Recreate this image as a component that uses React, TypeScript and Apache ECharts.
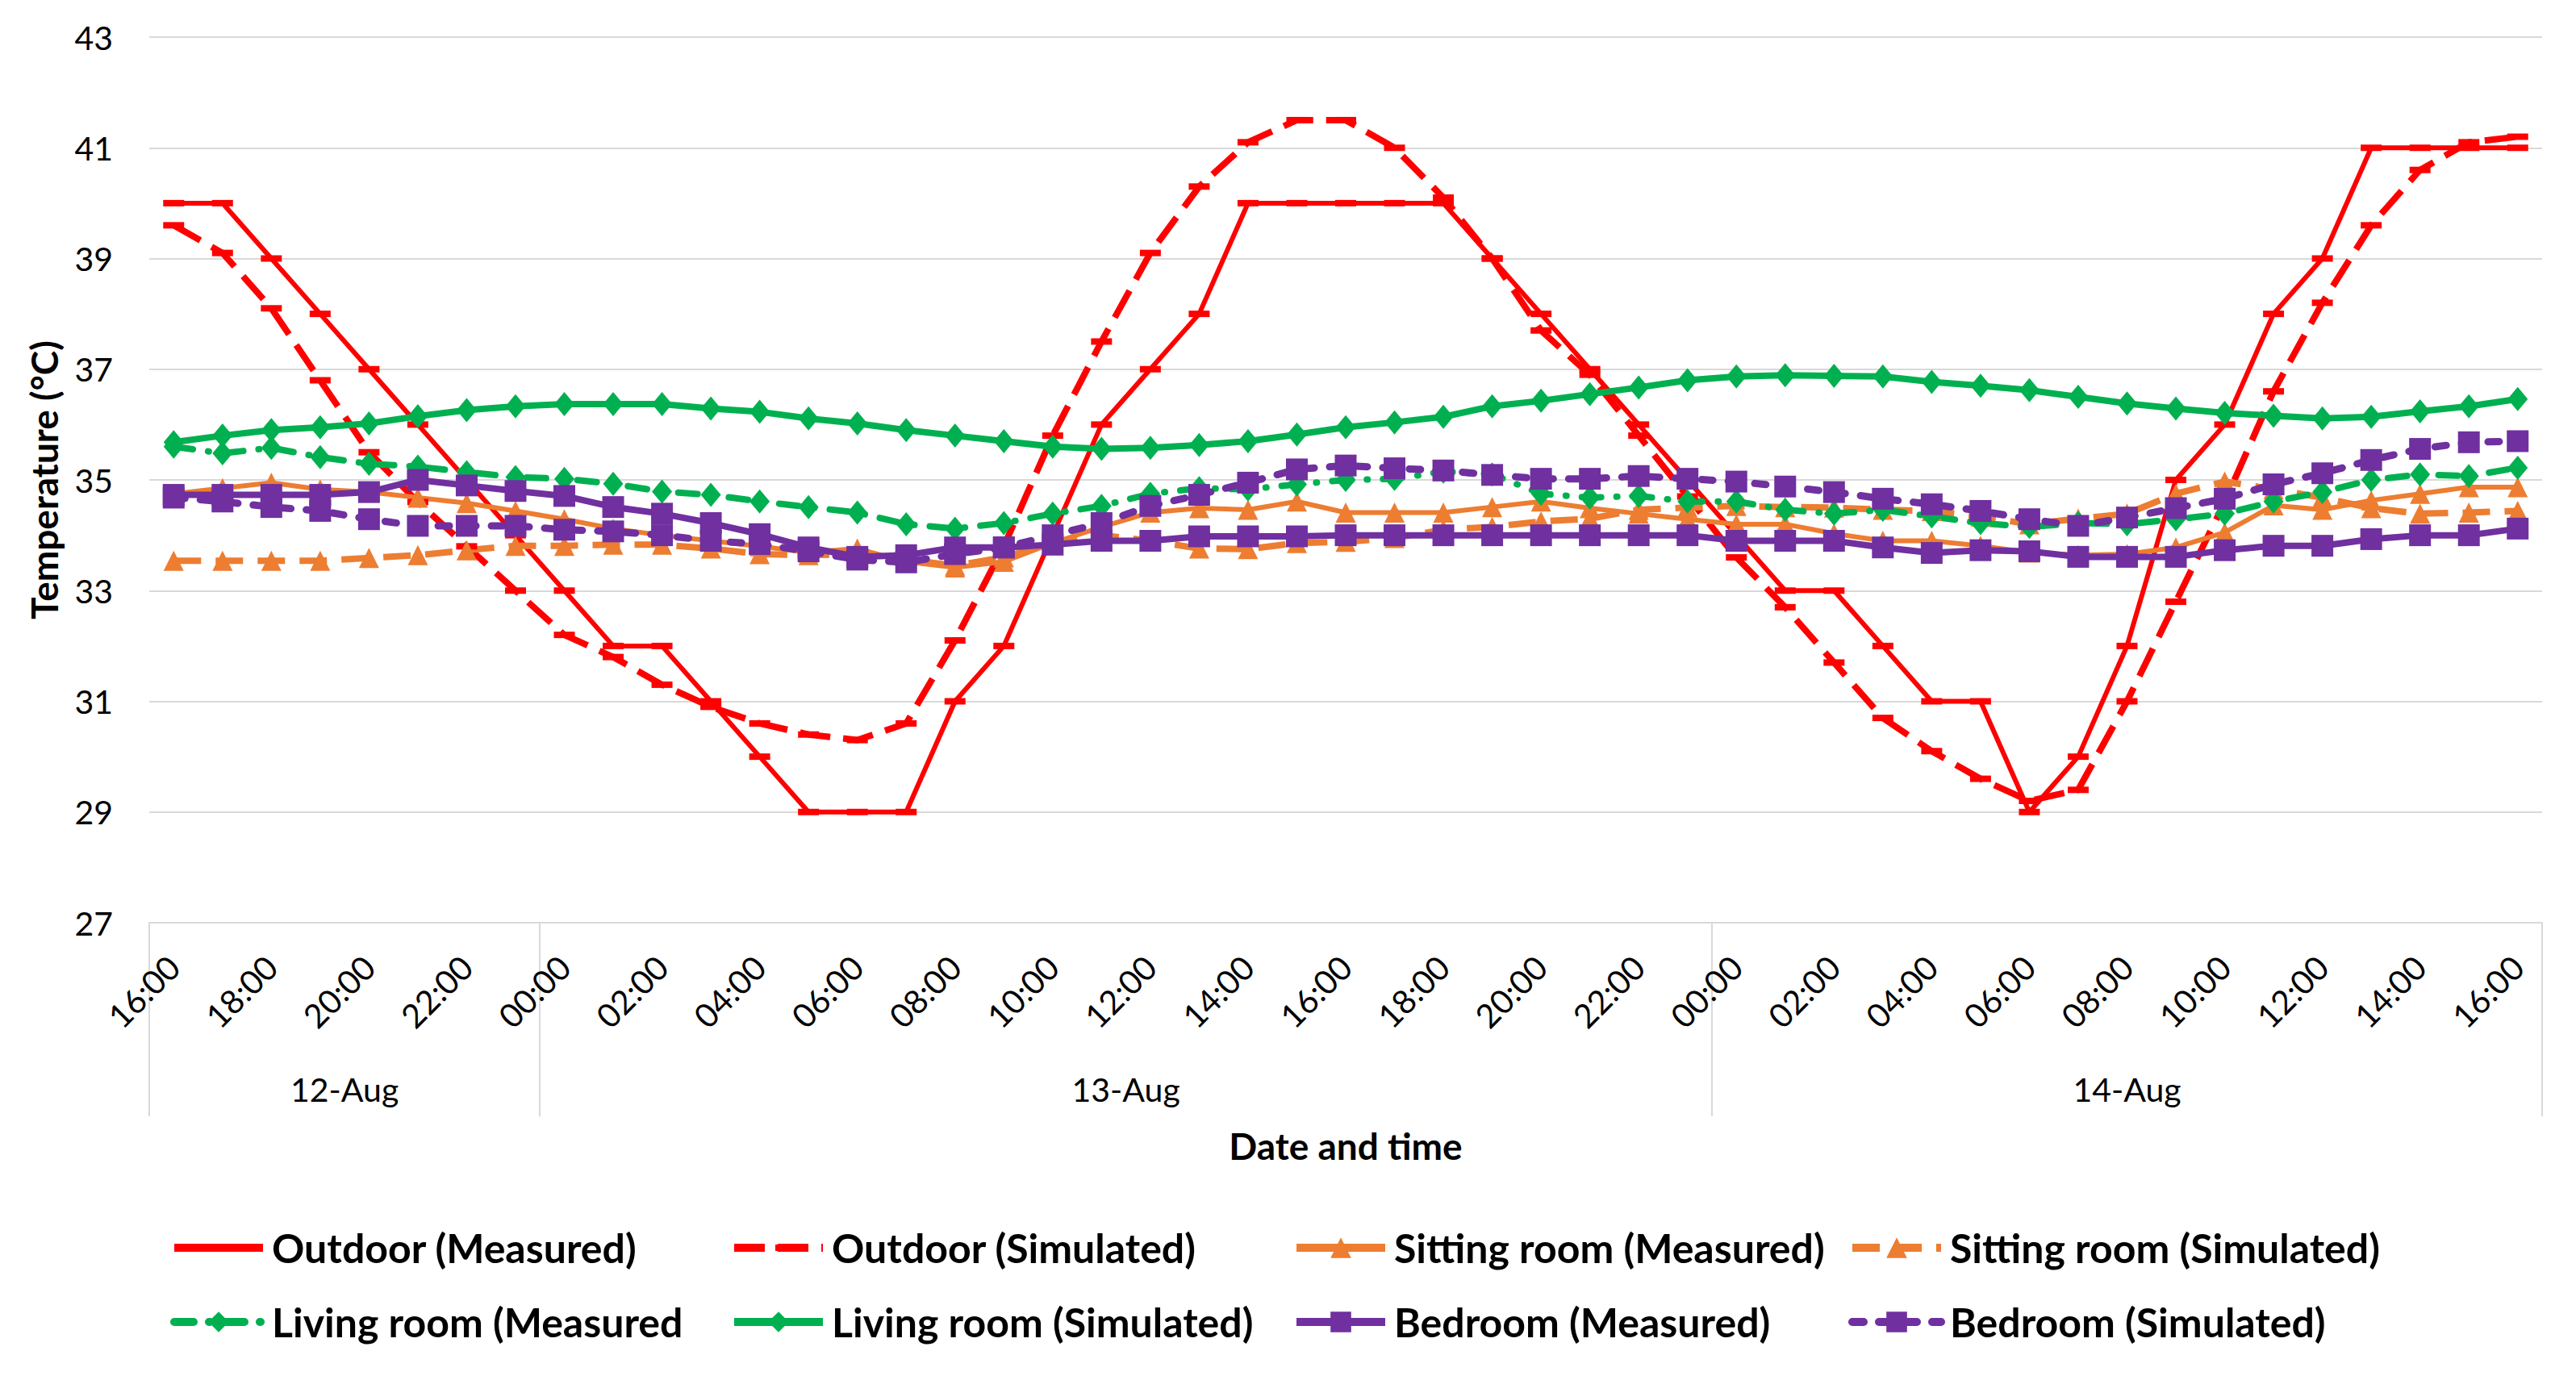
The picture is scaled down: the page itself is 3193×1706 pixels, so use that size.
import React, { useEffect, useRef } from 'react';
import * as echarts from 'echarts';

// ---------- data ----------
const times = [
  '16:00', '17:00', '18:00', '19:00', '20:00', '21:00', '22:00', '23:00',
  '00:00', '01:00', '02:00', '03:00', '04:00', '05:00', '06:00', '07:00',
  '08:00', '09:00', '10:00', '11:00', '12:00', '13:00', '14:00', '15:00',
  '16:00', '17:00', '18:00', '19:00', '20:00', '21:00', '22:00', '23:00',
  '00:00', '01:00', '02:00', '03:00', '04:00', '05:00', '06:00', '07:00',
  '08:00', '09:00', '10:00', '11:00', '12:00', '13:00', '14:00', '15:00',
  '16:00',
];

const dateLabels = ['12-Aug', '13-Aug', '14-Aug'];
const dateCounts = [8, 24, 17];

const outdoorMeasured = [
  40, 40, 39, 38, 37, 36, 35, 34, 33,
  32, 32, 31, 30, 29, 29, 29, 31, 32,
  34, 36, 37, 38, 40, 40, 40, 40, 40,
  39, 38, 37, 36, 35, 34, 33, 33, 32,
  31, 31, 29, 30, 32, 35, 36, 38, 39,
  41, 41, 41, 41,
];

const outdoorSimulated = [
  39.6, 39.1, 38.1, 36.8, 35.5, 34.6, 33.8, 33.0, 32.2,
  31.8, 31.3, 30.9, 30.6, 30.4, 30.3, 30.6, 32.1, 33.8,
  35.8, 37.5, 39.1, 40.3, 41.1, 41.5, 41.5, 41.0, 40.1,
  39.0, 37.7, 36.9, 35.8, 34.7, 33.6, 32.7, 31.7, 30.7,
  30.1, 29.6, 29.2, 29.4, 31.0, 32.8, 34.6, 36.6, 38.2,
  39.6, 40.6, 41.1, 41.2,
];

const sittingMeasured = [
  34.75, 34.85, 34.95, 34.83, 34.78, 34.68, 34.58, 34.44, 34.29, 34.12, 34.0, 33.9, 33.8,
  33.69, 33.76, 33.52, 33.42, 33.52, 33.86, 34.15, 34.41, 34.49, 34.46, 34.61, 34.41,
  34.41, 34.41, 34.51, 34.61, 34.49, 34.39, 34.29, 34.2, 34.2, 34.03, 33.9, 33.9,
  33.81, 33.69, 33.64, 33.66, 33.78, 34.05, 34.54, 34.46, 34.63, 34.75, 34.87, 34.87,
];

const sittingSimulated = [
  33.54, 33.54, 33.54, 33.54, 33.59, 33.64, 33.73, 33.81, 33.81, 33.83, 33.83, 33.76, 33.66,
  33.64, 33.66, 33.56, 33.45, 33.6, 33.85, 34.0, 33.9, 33.76, 33.75, 33.86, 33.88,
  33.95, 34.1, 34.15, 34.25, 34.3, 34.46, 34.5, 34.53, 34.51, 34.5, 34.46, 34.44,
  34.34, 34.2, 34.3, 34.39, 34.75, 34.97, 34.83, 34.68, 34.49, 34.39, 34.41, 34.44,
];

const livingMeasured = [
  35.6, 35.48, 35.58, 35.41, 35.29, 35.24, 35.14, 35.05, 35.02, 34.93, 34.79, 34.73, 34.61,
  34.51, 34.41, 34.2, 34.12, 34.22, 34.39, 34.53, 34.75, 34.85, 34.83, 34.92, 35.0,
  35.02, 35.15, 35.1, 34.75, 34.68, 34.71, 34.61, 34.61, 34.46, 34.39, 34.46, 34.34,
  34.22, 34.15, 34.22, 34.2, 34.29, 34.39, 34.61, 34.78, 35.0, 35.1, 35.07, 35.22,
];

const livingSimulated = [
  35.68, 35.8, 35.9, 35.95, 36.02, 36.15, 36.26, 36.33, 36.37, 36.37, 36.37, 36.29, 36.23,
  36.11, 36.02, 35.9, 35.8, 35.7, 35.6, 35.56, 35.58, 35.63, 35.7, 35.82, 35.95,
  36.04, 36.14, 36.33, 36.43, 36.55, 36.67, 36.8, 36.87, 36.89, 36.88, 36.87, 36.77,
  36.7, 36.62, 36.5, 36.38, 36.29, 36.21, 36.16, 36.11, 36.14, 36.24, 36.33, 36.46,
];

const bedroomMeasured = [
  34.73, 34.73, 34.73, 34.73, 34.78, 35.0, 34.9, 34.8, 34.71, 34.51, 34.39, 34.22, 34.02,
  33.78, 33.61, 33.64, 33.78, 33.78, 33.83, 33.9, 33.9, 33.98, 33.98, 33.98, 34.0,
  34.0, 34.0, 34.0, 34.0, 34.0, 34.0, 34.0, 33.9, 33.9, 33.9, 33.78, 33.68,
  33.73, 33.71, 33.61, 33.61, 33.61, 33.73, 33.81, 33.81, 33.93, 34.0, 34.0, 34.12,
];

const bedroomSimulated = [
  34.68, 34.61, 34.51, 34.44, 34.29, 34.17, 34.17, 34.17, 34.1, 34.07, 34.0, 33.9, 33.84,
  33.71, 33.56, 33.51, 33.66, 33.78, 34.0, 34.22, 34.53, 34.73, 34.95, 35.19, 35.26,
  35.21, 35.17, 35.09, 35.02, 35.02, 35.07, 35.02, 34.97, 34.88, 34.78, 34.66, 34.56,
  34.44, 34.29, 34.17, 34.32, 34.49, 34.66, 34.92, 35.12, 35.36, 35.56, 35.68, 35.7,
];

const seriesNames = [
  'Outdoor (Measured)', 'Outdoor (Simulated)', 'Sitting room (Measured)', 'Sitting room (Simulated)',
  'Living room (Measured', 'Living room (Simulated)', 'Bedroom (Measured)', 'Bedroom (Simulated)',
];

// ---------- styles ----------
const FONT = 'Lato, "Noto Sans", sans-serif';
const RED = '#FF0000';
const ORANGE = '#ED7D31';
const GREEN = '#00B050';
const PURPLE = '#7030A0';
const GRID_COLOR = '#D9D9D9';

function lineSeries(
  name: string,
  data: number[],
  color: string,
  width: number,
  dash: any,
  cap: string,
  symbol: string,
  symbolSize: any,
) {
  return {
    type: 'line',
    name,
    data,
    xAxisIndex: 0,
    yAxisIndex: 0,
    symbol,
    symbolSize,
    showSymbol: true,
    showAllSymbol: true,
    silent: true,
    emphasis: { disabled: true },
    lineStyle: { color, width, type: dash, cap, join: 'round' },
    itemStyle: { color, borderWidth: 0 },
  };
}

export default function App() {
  const ref = useRef<HTMLDivElement>(null);

  useEffect(() => {
    document.body.style.margin = '0';
    const chart = echarts.init(ref.current as HTMLDivElement, undefined, {
      renderer: 'svg',
      width: 3193,
      height: 1706,
    });

    const boundaries: number[] = [0];
    dateCounts.forEach((c, i) => boundaries.push(boundaries[i] + c));
    const centers = dateCounts.map((c, i) => boundaries[i] + c / 2);

    const series = [
      lineSeries(seriesNames[0], outdoorMeasured, RED, 6, 'solid', 'butt', 'rect', [26, 8]),
      lineSeries(seriesNames[1], outdoorSimulated, RED, 8, [38, 16], 'butt', 'rect', [26, 8]),
      lineSeries(seriesNames[2], sittingMeasured, ORANGE, 6, 'solid', 'butt', 'triangle', [25, 25]),
      lineSeries(seriesNames[3], sittingSimulated, ORANGE, 8, [34, 18], 'butt', 'triangle', [25, 25]),
      lineSeries(seriesNames[4], livingMeasured, GREEN, 8, [24, 19, 1, 19], 'round', 'diamond', [25, 30]),
      lineSeries(seriesNames[5], livingSimulated, GREEN, 8, 'solid', 'butt', 'diamond', [25, 30]),
      lineSeries(seriesNames[6], bedroomMeasured, PURPLE, 8, 'solid', 'butt', 'rect', [27, 27]),
      lineSeries(seriesNames[7], bedroomSimulated, PURPLE, 9, [14, 19], 'round', 'rect', [27, 27]),
    ];

    const legendLeft = [211, 905, 1602, 2291];
    const legendTop = [1522, 1614];
    const legendOrder = [0, 1, 2, 3, 4, 5, 6, 7];
    const legends = legendOrder.map((si, k) => {
      const isOutdoor = si < 2;
      return {
        show: true,
        data: [seriesNames[si]],
        left: legendLeft[k % 4],
        top: legendTop[Math.floor(k / 4)],
        orient: 'horizontal',
        selectedMode: false,
        itemWidth: 110,
        itemHeight: isOutdoor ? 10 : 32,
        padding: 0,
        lineStyle: { width: 10 },
        textStyle: {
          fontFamily: FONT,
          fontSize: 50,
          fontWeight: 'bold',
          color: '#000',
          padding: [0, 0, 0, 6],
        },
      };
    });

    const option: any = {
      animation: false,
      backgroundColor: '#FFFFFF',
      textStyle: { fontFamily: FONT },
      grid: { left: 185, right: 42, top: 46, bottom: 562, containLabel: false },
      legend: legends,
      xAxis: [
        {
          type: 'category',
          data: times,
          boundaryGap: true,
          axisLine: { show: true, lineStyle: { color: GRID_COLOR, width: 2 } },
          axisTick: { show: false },
          splitLine: { show: false },
          axisLabel: {
            interval: 1,
            rotate: 45,
            margin: 48,
            fontSize: 41,
            color: '#000',
            fontFamily: FONT,
          },
          name: 'Date and time',
          nameLocation: 'middle',
          nameGap: 253,
          nameTextStyle: { fontSize: 46, fontWeight: 'bold', color: '#000', fontFamily: FONT },
        },
        {
          type: 'value',
          min: 0,
          max: boundaries[boundaries.length - 1],
          position: 'bottom',
          axisLine: { show: false },
          splitLine: { show: false },
          axisTick: {
            show: true,
            customValues: boundaries,
            length: 240,
            lineStyle: { color: GRID_COLOR, width: 2 },
          },
          axisLabel: {
            show: true,
            customValues: centers,
            formatter: (v: number) => {
              const idx = centers.indexOf(v);
              return idx >= 0 ? dateLabels[idx] : '';
            },
            margin: 186,
            fontSize: 41,
            color: '#000',
            fontFamily: FONT,
          },
        },
      ],
      yAxis: {
        type: 'value',
        min: 27,
        max: 43,
        interval: 2,
        name: 'Temperature (°C)',
        nameLocation: 'middle',
        nameGap: 108,
        nameTextStyle: { fontSize: 46, fontWeight: 'bold', color: '#000', fontFamily: FONT },
        axisLine: { show: false },
        axisTick: { show: false },
        axisLabel: { fontSize: 41, color: '#000', margin: 45, fontFamily: FONT },
        splitLine: { show: true, lineStyle: { color: GRID_COLOR, width: 2 } },
      },
      series,
    };

    chart.setOption(option);
    return () => chart.dispose();
  }, []);

  return <div ref={ref} style={{ width: '3193px', height: '1706px' }} />;
}
